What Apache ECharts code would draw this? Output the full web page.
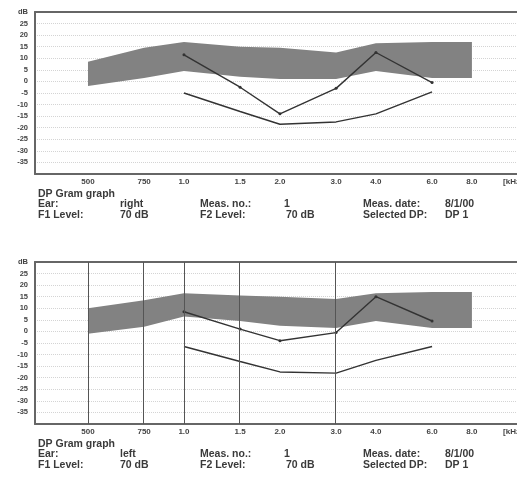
<!DOCTYPE html>
<html>
<head>
<meta charset="utf-8">
<script src="https://cdn.jsdelivr.net/npm/echarts@6/dist/echarts.min.js"></script>
<style>
	html, body { margin: 0; padding: 0; background: #fff; }
	#dp-charts { width: 517px; height: 496px; }
</style>
</head>
<body>
<div id="dp-charts"></div>
<script>
// frequencies in kHz, tick labels under the x axis
var freqKHz = [0.5, 0.75, 1, 1.5, 2, 3, 4, 6, 8];
var freqLabels = ['500', '750', '1.0', '1.5', '2.0', '3.0', '4.0', '6.0', '8.0'];
var unitFreq = 10.75;
var unitLabel = '[kHz]';

// y axis levels (dB)
var yMin = -40, yMax = 30, yStep = 5;

// DP measured frequencies
var dpFreqKHz = [1, 1.5, 2, 3, 4, 6];

// right ear (top chart)
var rightBandUpper = [8.5, 14.5, 17, 15, 14.5, 12.5, 16.5, 17, 17];
var rightBandLower = [-2, 1.5, 4.5, 2, 1, 1, 4.5, 1.5, 1.5];
var rightDP = [11.5, -2.5, -14, -3, 12.5, -0.5];
var rightNoise = [-5, -13, -18.5, -17.5, -14, -4.5];

// left ear (bottom chart)
var leftBandUpper = [10, 13.5, 16.5, 15.5, 15, 14, 16.5, 17, 17];
var leftBandLower = [-1, 2, 6.5, 4.5, 2.5, 1.5, 4.5, 1.5, 1.5];
var leftDP = [8.5, 1, -4, -0.5, 15, 4.5];
var leftNoise = [-6.5, -13, -17.5, -18, -12.5, -6.5];
var leftVLines = [0.5, 0.75, 1, 1.5, 3];

// info texts under each chart
var infoRight = { ear: 'right', f1: '70 dB', no: '1', f2: '70 dB', date: '8/1/00', dp: 'DP 1' };
var infoLeft = { ear: 'left', f1: '70 dB', no: '1', f2: '70 dB', date: '8/1/00', dp: 'DP 1' };

// x axis is in octaves re 1 kHz (log frequency scale)
function oct(f) { return Math.log2(f); }

var tickVals = freqKHz.map(oct).concat([oct(unitFreq)]);
var tickTexts = freqLabels.concat([unitLabel]);

function freqFormatter(v) {
	for (var i = 0; i < tickVals.length; i++) {
		if (Math.abs(tickVals[i] - v) < 1e-6) return tickTexts[i];
	}
	return '';
}

function pairs(xs, ys) {
	return xs.map(function (f, i) { return [oct(f), ys[i]]; });
}

var gridTops = [12, 262];
var labelColor = '#444';
var frameLine = { show: true, onZero: false, lineStyle: { color: '#666', width: 2 } };
var xMin = -1.552, xMax = 3.6;

function makeX(idx) {
	return {
		type: 'value',
		gridIndex: idx,
		min: xMin,
		max: xMax,
		axisLine: frameLine,
		axisTick: { show: false },
		splitLine: { show: false },
		axisLabel: {
			customValues: tickVals,
			formatter: freqFormatter,
			color: labelColor,
			fontSize: 8,
			fontWeight: 'bold',
			fontFamily: 'Liberation Sans',
			margin: 4
		}
	};
}

// top edge of the frame
function makeTopX(idx) {
	return {
		type: 'value',
		gridIndex: idx,
		position: 'top',
		min: xMin,
		max: xMax,
		axisLine: frameLine,
		axisTick: { show: false },
		axisLabel: { show: false },
		splitLine: { show: false }
	};
}

function makeY(idx) {
	return {
		type: 'value',
		gridIndex: idx,
		min: yMin,
		max: yMax,
		interval: yStep,
		axisLine: frameLine,
		axisTick: { show: false },
		splitLine: { show: true, lineStyle: { color: '#d4d4d4', type: 'dotted', width: 1 } },
		axisLabel: {
			color: labelColor,
			fontSize: 7.5,
			fontWeight: 'bold',
			fontFamily: 'Liberation Sans',
			margin: 7,
			formatter: function (v) {
				if (v === yMax) return 'dB';
				if (v === yMin) return '';
				return String(v);
			}
		}
	};
}

// normal range band drawn as one polygon between upper and lower edges
function bandSeries(idx, upper, lower) {
	var up = pairs(freqKHz, upper);
	var low = pairs(freqKHz, lower).reverse();
	return {
		type: 'custom', xAxisIndex: idx, yAxisIndex: idx, silent: true, z: 1,
		data: [[up[0][0], up[0][1]]],
		renderItem: function (params, api) {
			var pts = up.concat(low).map(function (p) { return api.coord(p); });
			return {
				type: 'polygon',
				shape: { points: pts },
				style: { fill: '#828282', stroke: null }
			};
		}
	};
}

function makeSeries(idx, upper, lower, dp, noise, vlines) {
	var list = [
		bandSeries(idx, upper, lower),
		{
			type: 'line', xAxisIndex: idx, yAxisIndex: idx, z: 3,
			symbol: 'circle', symbolSize: 3, silent: true,
			itemStyle: { color: '#333' },
			lineStyle: { color: '#333', width: 1.4 },
			data: pairs(dpFreqKHz, dp)
		},
		{
			type: 'line', xAxisIndex: idx, yAxisIndex: idx, z: 3,
			symbol: 'none', silent: true,
			lineStyle: { color: '#333', width: 1.4 },
			data: pairs(dpFreqKHz, noise)
		}
	];
	if (vlines) {
		list[2].markLine = {
			silent: true,
			symbol: 'none',
			label: { show: false },
			lineStyle: { color: '#555', width: 1, type: 'solid' },
			data: vlines.map(function (f) { return { xAxis: oct(f) }; })
		};
	}
	return list;
}

function infoTexts(top, info) {
	var font = 'bold 10.5px "Liberation Sans"';
	var rows = [
		[38, top, 'DP Gram graph'],
		[38, top + 10.5, 'Ear:'], [120, top + 10.5, info.ear],
		[38, top + 21, 'F1 Level:'], [120, top + 21, info.f1],
		[200, top + 10.5, 'Meas. no.:'], [284, top + 10.5, info.no],
		[200, top + 21, 'F2 Level:'], [286, top + 21, info.f2],
		[363, top + 10.5, 'Meas. date:'], [445, top + 10.5, info.date],
		[363, top + 21, 'Selected DP:'], [445, top + 21, info.dp]
	];
	return rows.map(function (r) {
		return {
			type: 'text', left: r[0], top: r[1], silent: true,
			style: { text: r[2], font: font, fill: '#3a3a3a' }
		};
	});
}

var option_dp = {
	backgroundColor: '#fff',
	animation: false,
	grid: gridTops.map(function (t) {
		return { left: 35, top: t, width: 494.5, height: 162, outerBoundsMode: 'none', containLabel: false };
	}),
	xAxis: [makeX(0), makeX(1), makeTopX(0), makeTopX(1)],
	yAxis: [makeY(0), makeY(1)],
	series: makeSeries(0, rightBandUpper, rightBandLower, rightDP, rightNoise, null)
		.concat(makeSeries(1, leftBandUpper, leftBandLower, leftDP, leftNoise, leftVLines)),
	graphic: infoTexts(188.5, infoRight).concat(infoTexts(438.5, infoLeft))
};

var dpCharts = echarts.init(document.getElementById('dp-charts'));
dpCharts.setOption(option_dp);
</script>
</body>
</html>
